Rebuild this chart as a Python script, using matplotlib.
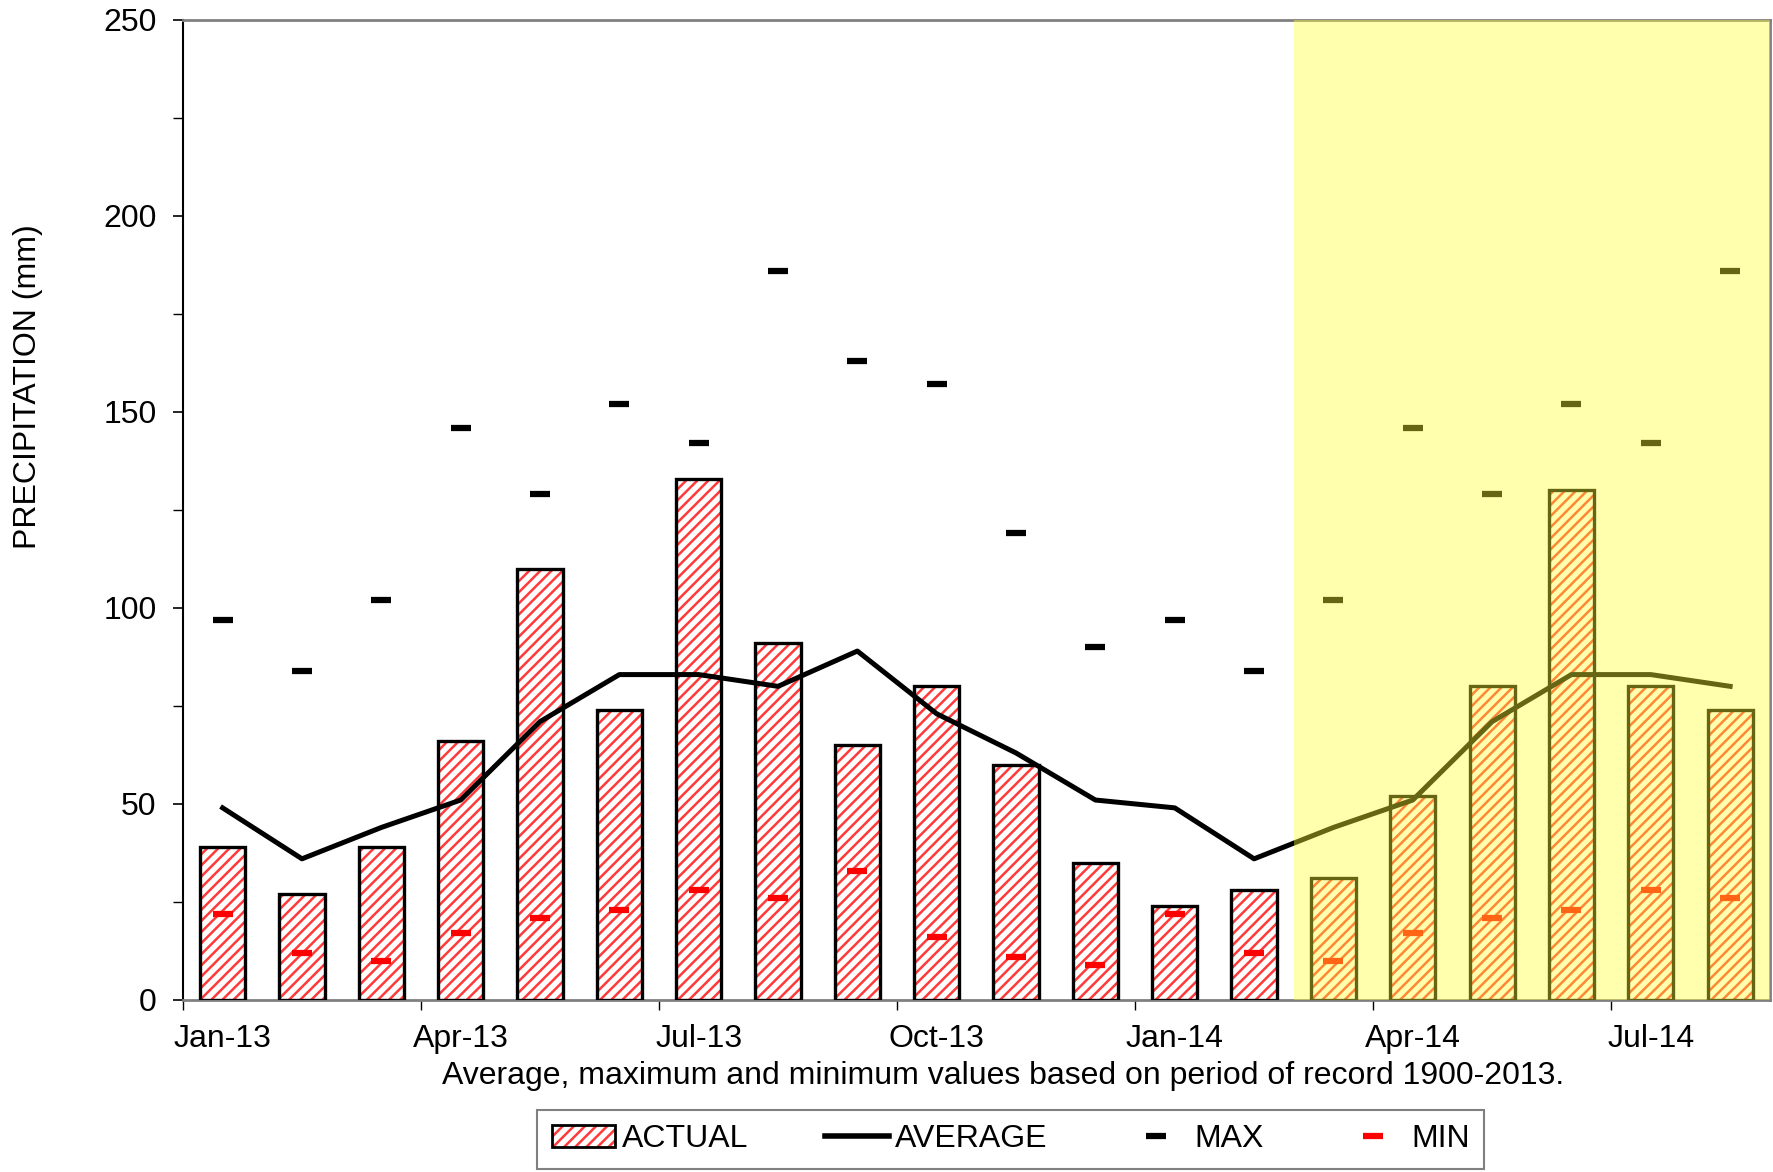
import numpy as np
import matplotlib.pyplot as plt
from matplotlib.patches import Patch
from matplotlib.lines import Line2D

plt.rcParams['font.family'] = ['Liberation Sans', 'DejaVu Sans']
plt.rcParams['hatch.linewidth'] = 1.8

months = ["Jan-13", "Feb-13", "Mar-13", "Apr-13", "May-13", "Jun-13", "Jul-13",
          "Aug-13", "Sep-13", "Oct-13", "Nov-13", "Dec-13", "Jan-14", "Feb-14",
          "Mar-14", "Apr-14", "May-14", "Jun-14", "Jul-14", "Aug-14"]
actual = [39, 27, 39, 66, 110, 74, 133, 91, 65, 80, 60, 35, 24, 28,
          31, 52, 80, 130, 80, 74]
average = [49, 36, 44, 51, 71, 83, 83, 80, 89, 73, 63, 51, 49, 36,
           44, 51, 71, 83, 83, 80]
max_vals = [97, 84, 102, 146, 129, 152, 142, 186, 163, 157, 119, 90, 97, 84,
            102, 146, 129, 152, 142, 186]
min_vals = [22, 12, 10, 17, 21, 23, 28, 26, 33, 16, 11, 9, 22, 12,
            10, 17, 21, 23, 28, 26]
forecast_start = "Mar-14"

x = np.arange(len(months))

fig = plt.figure(figsize=(17.73, 11.72), dpi=100)
ax = fig.add_axes([0.1032, 0.1468, 0.8950, 0.8362])

# hatched bars: red stripes first, then black outline on top
ax.bar(x, actual, width=0.57, facecolor='white', edgecolor='#ff3a3a',
       hatch='///', linewidth=0, zorder=2)
ax.bar(x, actual, width=0.57, facecolor='none', edgecolor='black',
       linewidth=2.4, zorder=3)

ax.plot(x, average, color='black', linewidth=3.6, zorder=4)
ax.plot(x, max_vals, linestyle='none', marker='_', markersize=15,
        markeredgewidth=4.5, color='black', zorder=5)
ax.plot(x, min_vals, linestyle='none', marker='_', markersize=15,
        markeredgewidth=4.5, color='#ff0000', zorder=5)

# shaded block over the last months
i0 = months.index(forecast_start)
ax.axvspan(i0 - 0.5, len(months) - 0.5, color='#ffff33', alpha=0.4,
           linewidth=0, zorder=6)

ax.set_xlim(-0.5, len(months) - 0.5)
ax.set_ylim(0, 250)
ax.set_yticks(np.arange(0, 251, 50))
ax.set_yticks(np.arange(0, 251, 25), minor=True)
ax.tick_params(axis='y', which='major', labelsize=23, length=7, width=1.2,
               direction='out', pad=12)
ax.tick_params(axis='y', which='minor', length=7, width=1.0, direction='out')

label_idx = np.arange(0, len(months), 3)
ax.set_xticks(label_idx)
ax.set_xticklabels([months[i] for i in label_idx])
ax.set_xticks(np.arange(-0.5, len(months), 3), minor=True)
ax.tick_params(axis='x', which='major', length=0, labelsize=23, pad=17)
ax.tick_params(axis='x', which='minor', length=7, width=1.0, direction='out')

for side in ['top', 'right', 'bottom']:
    ax.spines[side].set_color('#808080')
    ax.spines[side].set_linewidth(2)
ax.spines['left'].set_color('black')
ax.spines['left'].set_linewidth(1.5)

fig.text(0.016, 0.670, 'PRECIPITATION (mm)', rotation=90,
         ha='center', va='center', fontsize=23)
fig.text(0.566, 0.082,
         'Average, maximum and minimum values based on period of record 1900-2013.',
         ha='center', va='center', fontsize=23)

handles = [
    (Patch(facecolor='white', edgecolor='#ff3a3a', hatch='///', linewidth=0),
     Patch(facecolor='none', edgecolor='black', linewidth=2)),
    Line2D([], [], color='black', linewidth=4),
    Line2D([], [], linestyle='none', marker='_', markersize=15,
           markeredgewidth=4.5, color='black'),
    Line2D([], [], linestyle='none', marker='_', markersize=15,
           markeredgewidth=4.5, color='#ff0000'),
]
leg = fig.legend(handles, ['ACTUAL', 'AVERAGE', 'MAX', 'MIN'], loc='center',
                 bbox_to_anchor=(0.570, 0.028), ncol=4, fontsize=23,
                 frameon=True, fancybox=False, handlelength=2.0,
                 handletextpad=0.2, columnspacing=2.4, borderpad=0.45)
leg.get_frame().set_edgecolor('#606060')
leg.get_frame().set_linewidth(1.5)

fig.savefig('out.png', dpi=100)
